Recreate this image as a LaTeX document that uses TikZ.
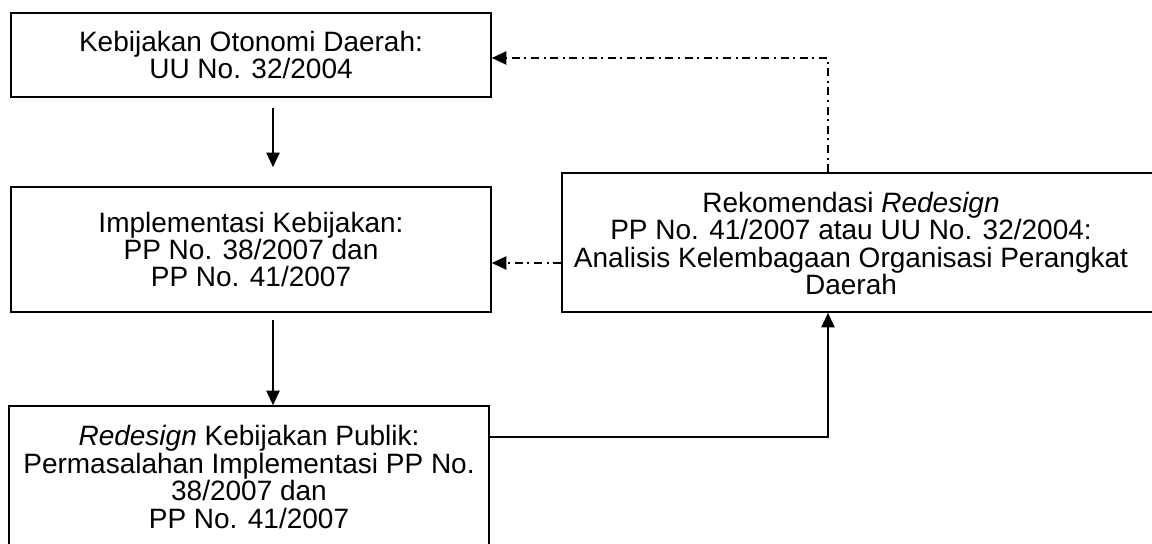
\documentclass[tikz,border=0pt]{standalone}
\usepackage{fontspec}
\setmainfont{Liberation Sans}
\usetikzlibrary{arrows.meta,calc}
\begin{document}
\begin{tikzpicture}[x=0.75pt,y=-0.75pt,
  box/.style={draw, line width=1.2pt, inner sep=0pt, align=center,
    font=\fontsize{21}{20.6}\selectfont},
  txt/.style={inner sep=0pt, align=center, font=\fontsize{21}{20.6}\selectfont},
  conn/.style={line width=1.1pt, -{Triangle[length=11pt,width=10pt]}},
  dd/.style={line width=1.2pt, dash pattern=on 6pt off 3.5pt on 1.4pt off 3.5pt,
    -{Triangle[length=11pt,width=10pt]}}]
\useasboundingbox (0,0) rectangle (1152,543);
\node[box, minimum width=360pt, minimum height=63pt] (A) at (251,55)
  {Kebijakan Otonomi Daerah:\\UU No. 32/2004};
\node[box, minimum width=360pt, minimum height=93.75pt] (B) at (251,249.5)
  {Implementasi Kebijakan:\\PP No. 38/2007 dan\\PP No. 41/2007};
\node[box, minimum width=360pt, minimum height=106.5pt] (D) at (249,477)
  {\textit{Redesign} Kebijakan Publik:\\Permasalahan Implementasi PP No.\\38/2007 dan\\PP No. 41/2007};
\node[box, minimum width=451.5pt, minimum height=104.25pt] (C) at (863,242.5) {};
\node[txt] (Ct) at (851,243.5)
  {Rekomendasi \textit{Redesign}\\PP No. 41/2007 atau UU No. 32/2004:\\Analisis Kelembagaan Organisasi Perangkat\\Daerah};
\draw[conn] ($(A.south)+(22,10)$) -- ($(B.north)+(22,-19)$);
\draw[conn] ($(B.south)+(22,7)$) -- ($(D.north)+(24,0)$);
\draw[conn] ($(D.east)+(0,-40)$) -| ($(C.south)+(-35,0)$);
\draw[dd] ($(C.north)+(-35,0)$) |- ($(A.east)+(0,3)$);
\draw[dd] ($(C.west)+(0,20.5)$) -- ($(B.east)+(0,13.5)$);
\end{tikzpicture}
\end{document}
